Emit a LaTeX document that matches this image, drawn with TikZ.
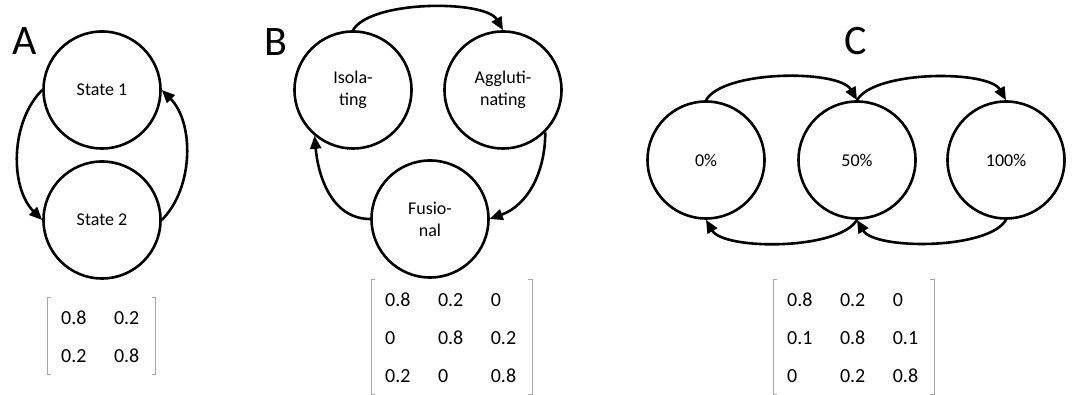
\documentclass[tikz,border=0pt]{standalone}
\usepackage{fontspec}
\setmainfont{Carlito}
\usepackage{tikz}
\usetikzlibrary{arrows.meta}

\begin{document}
\begin{tikzpicture}[x=1pt, y=1pt,
    state/.style={circle, draw, line width=2.6pt, minimum size=117pt, inner sep=0pt,
      align=center, font=\fontsize{18}{22}\selectfont},
    arr/.style={line width=2.6pt, -{Triangle[length=13pt, width=11pt]}},
    panel/.style={font=\fontsize{42}{42}\selectfont},
    mat/.style={anchor=north west, inner sep=0pt, font=\fontsize{20}{38}\selectfont},
    bracket/.style={draw=gray!70, line width=1pt}]
  \useasboundingbox (0,0) rectangle (1074,395);

  % A: two states
  \node[panel] (labA) at (25,354) {A};
  \node[state] (s1) at (102,305) {State 1};
  \node[state] (s2) at (102,175) {State 2};
  \draw[arr] (s1.west) to[out=-135, in=135, looseness=0.9] (s2.west);
  \draw[arr] (s2.east) to[out=45, in=-45, looseness=0.9] (s1.east);
  \node[mat] (matA) at (61,97) {\begin{tabular}{@{}l@{\hspace{27.5pt}}l@{}}
    0.8 & 0.2\\ 0.2 & 0.8\end{tabular}};

  % B: morphological types
  \node[panel] (labB) at (276,353) {B};
  \node[state] (iso) at (353,305) {Isola-\\ting};
  \node[state] (agg) at (503,305) {Aggluti-\\nating};
  \node[state] (fus) at (430,176) {Fusio-\\nal};
  \draw[arr] (iso.north) to[out=60, in=120, looseness=0.6] (agg.north);
  \draw[arr] (agg.-45) to[out=-90, in=20] (fus.east);
  \draw[arr] (fus.west) to[out=180, in=-85] (iso.230);
  \node[mat] (matB) at (385,115) {\begin{tabular}{@{}l@{\hspace{27.5pt}}l@{\hspace{27.5pt}}l@{}}
    0.8 & 0.2 & 0\\ 0 & 0.8 & 0.2\\ 0.2 & 0 & 0.8\end{tabular}};

  % C: percentages
  \node[panel] (labC) at (856,354) {C};
  \node[state] (p0) at (706,235) {0\%};
  \node[state] (p50) at (857,235) {50\%};
  \node[state] (p100) at (1006,235) {100\%};
  \draw[arr] (p0.north) to[out=60, in=120, looseness=0.6] (p50.north);
  \draw[arr] (p50.north) to[out=60, in=120, looseness=0.6] (p100.north);
  \draw[arr] (p50.south) to[out=-120, in=-60, looseness=0.6] (p0.south);
  \draw[arr] (p100.south) to[out=-120, in=-60, looseness=0.6] (p50.south);
  \node[mat] (matC) at (787,115) {\begin{tabular}{@{}l@{\hspace{27.5pt}}l@{\hspace{27.5pt}}l@{}}
    0.8 & 0.2 & 0\\ 0.1 & 0.8 & 0.1\\ 0 & 0.2 & 0.8\end{tabular}};

  % brackets round the matrices
  \foreach \m in {matA, matB, matC} {
    \draw[bracket] ([xshift=-10pt]\m.north west) -| ([xshift=-14pt]\m.south west) -- ++(4,0);
    \draw[bracket] ([xshift=12pt]\m.north east) -| ([xshift=16pt]\m.south east) -- ++(-4,0);
  }
\end{tikzpicture}
\end{document}
